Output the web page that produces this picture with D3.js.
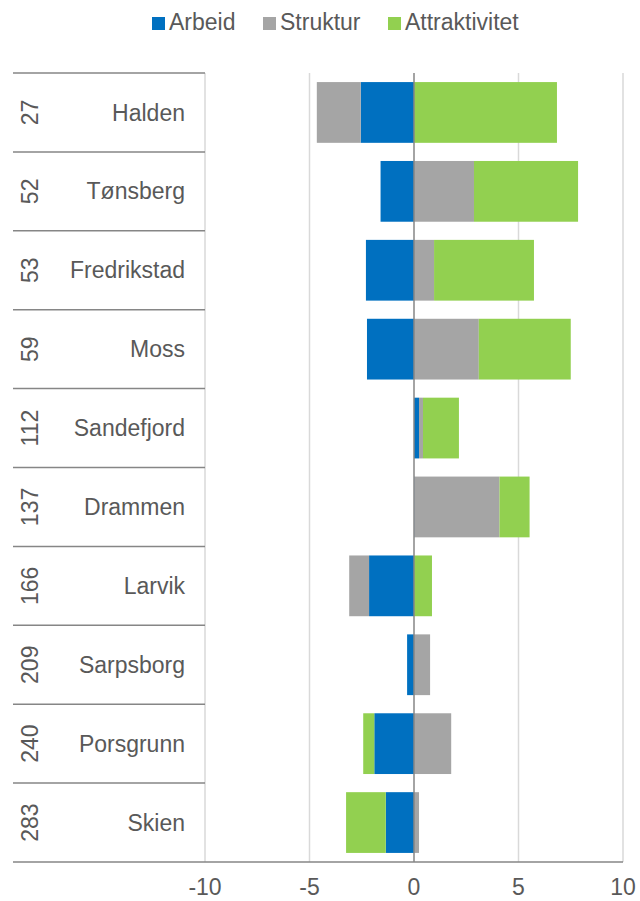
<!DOCTYPE html>
<html>
<head>
<meta charset="utf-8">
<script src="https://cdn.jsdelivr.net/npm/d3@7"></script>
<style>
  body { margin: 0; background: #fff; }
  svg { font-family: "Liberation Sans", Arial, sans-serif; }
</style>
</head>
<body>
<svg id="chart" width="640" height="901"></svg>
<script>
// data
const cities = ['Halden', 'Tønsberg', 'Fredrikstad', 'Moss', 'Sandefjord', 'Drammen', 'Larvik', 'Sarpsborg', 'Porsgrunn', 'Skien']
const ranks = [27, 52, 53, 59, 112, 137, 166, 209, 240, 283]
const arbeid = [-2.55, -1.6, -2.3, -2.25, 0.24, 0.02, -2.15, -0.33, -1.9, -1.35]
const struktur = [-2.1, 2.87, 0.96, 3.1, 0.19, 4.07, -0.95, 0.77, 1.78, 0.24]
const attraktivitet = [6.84, 4.98, 4.78, 4.4, 1.72, 1.44, 0.86, 0.0, -0.53, -1.9]
const series_names = ['Arbeid', 'Struktur', 'Attraktivitet']
const colors = ['#0070c0', '#a5a5a5', '#92d050']
const x_ticks = [-10, -5, 0, 5, 10]

const rows = cities.map((c, i) => ({
  city: c, rank: ranks[i],
  Arbeid: arbeid[i], Struktur: struktur[i], Attraktivitet: attraktivitet[i]
}))

const svg = d3.select('#chart')
const plot_left = 205, plot_right = 623, plot_top = 73, plot_bottom = 862
const text_col = '#595959'
const fs = 23

const x = d3.scaleLinear().domain([-10, 10]).range([plot_left, plot_right])
const y = d3.scaleBand().domain(cities).range([plot_top, plot_bottom]).paddingInner(0.23).paddingOuter(0.115)
const y_row = d3.scaleBand().domain(cities).range([plot_top, plot_bottom])

// gridlines
svg.append('g')
  .selectAll('line')
  .data(x_ticks.filter(t => t != 0))
  .join('line')
  .attr('x1', d => x(d)).attr('x2', d => x(d))
  .attr('y1', plot_top).attr('y2', plot_bottom)
  .attr('stroke', '#d9d9d9').attr('stroke-width', 1.5)

const stack = d3.stack()
  .keys(series_names)
  .offset(d3.stackOffsetDiverging)
const layers = stack(rows)

svg.append('g')
  .selectAll('g')
  .data(layers)
  .join('g')
  .attr('fill', (d, i) => colors[i])
  .selectAll('rect')
  .data(d => d)
  .join('rect')
  .attr('x', d => x(Math.min(d[0], d[1])))
  .attr('width', d => Math.abs(x(d[1]) - x(d[0])))
  .attr('y', d => y(d.data.city))
  .attr('height', y.bandwidth())

// zero line
svg.append('line')
  .attr('x1', x(0)).attr('x2', x(0))
  .attr('y1', plot_top).attr('y2', plot_bottom)
  .attr('stroke', '#868686').attr('stroke-width', 1.5)

// row separators in label area
const seps = d3.range(cities.length + 1).map(i => plot_top + i * y_row.step())
svg.append('g')
  .selectAll('line')
  .data(seps)
  .join('line')
  .attr('x1', 13).attr('x2', (d, i) => i == cities.length ? plot_right : plot_left)
  .attr('y1', d => d).attr('y2', d => d)
  .attr('stroke', '#868686').attr('stroke-width', 1.5)

// city labels
svg.append('g')
  .selectAll('text')
  .data(rows)
  .join('text')
  .attr('x', 185)
  .attr('y', d => y_row(d.city) + y_row.bandwidth() / 2)
  .attr('dy', '0.35em')
  .attr('text-anchor', 'end')
  .attr('font-size', fs)
  .attr('fill', text_col)
  .text(d => d.city)

// rank labels, rotated
svg.append('g')
  .selectAll('text')
  .data(rows)
  .join('text')
  .attr('transform', d => `translate(30,${y_row(d.city) + y_row.bandwidth() / 2}) rotate(-90)`)
  .attr('dy', '0.35em')
  .attr('text-anchor', 'middle')
  .attr('font-size', fs)
  .attr('fill', text_col)
  .text(d => d.rank)

// x axis tick labels
svg.append('g')
  .selectAll('text')
  .data(x_ticks)
  .join('text')
  .attr('x', d => x(d))
  .attr('y', 895)
  .attr('text-anchor', 'middle')
  .attr('font-size', fs)
  .attr('fill', text_col)
  .text(d => d)

// legend
const legend_items = [
  { name: 'Arbeid', x: 152 },
  { name: 'Struktur', x: 263 },
  { name: 'Attraktivitet', x: 388 }
]
const lg = svg.append('g')
lg.selectAll('rect')
  .data(legend_items)
  .join('rect')
  .attr('x', d => d.x).attr('y', 17)
  .attr('width', 13).attr('height', 13)
  .attr('fill', (d, i) => colors[i])
lg.selectAll('text')
  .data(legend_items)
  .join('text')
  .attr('x', d => d.x + 17).attr('y', 30)
  .attr('font-size', fs)
  .attr('fill', text_col)
  .text(d => d.name)
</script>
</body>
</html>
